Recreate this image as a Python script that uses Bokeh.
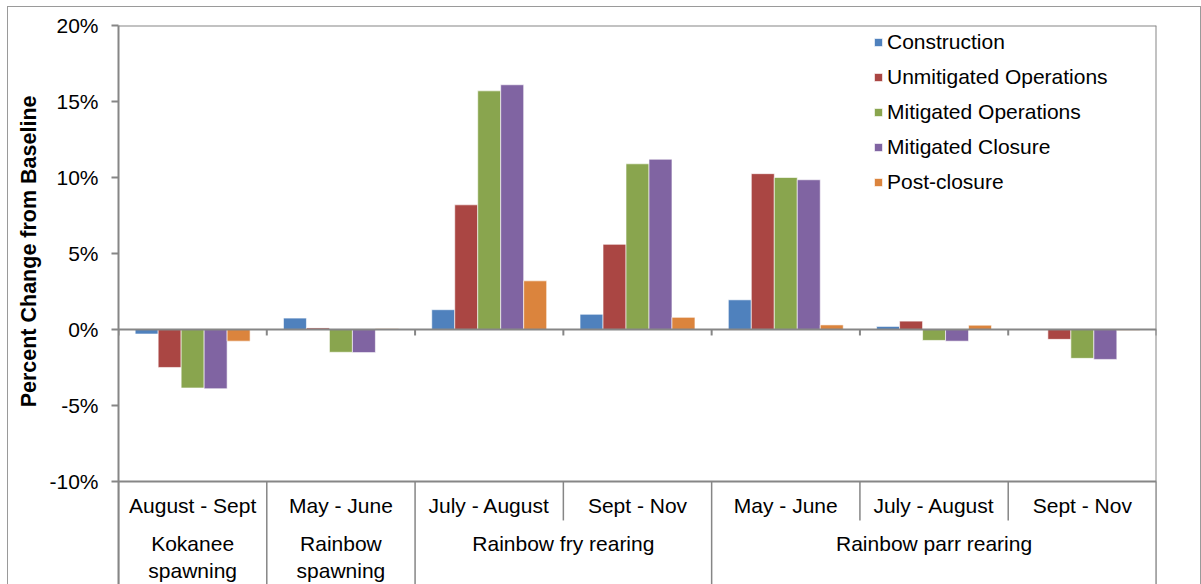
from bokeh.plotting import figure
from bokeh.models import (Range1d, FixedTicker, PrintfTickFormatter, Span, Legend,
                          LegendItem, ColumnDataSource, Title)
from bokeh.core.properties import value
from bokeh.embed import file_html
from bokeh.resources import INLINE

# ---------------- data ----------------
months = ["August - Sept", "May - June", "July - August", "Sept - Nov",
          "May - June", "July - August", "Sept - Nov"]
groups = ["Kokanee\nspawning", "Rainbow\nspawning", "Rainbow fry rearing", "Rainbow parr rearing"]
group_sizes = [1, 1, 2, 3]

series_names = ["Construction", "Unmitigated Operations", "Mitigated Operations",
                "Mitigated Closure", "Post-closure"]
construction = [-0.3, 0.75, 1.3, 1.0, 1.95, 0.2, 0.0]
unmitigated_ops = [-2.5, 0.1, 8.2, 5.6, 10.25, 0.55, -0.65]
mitigated_ops = [-3.85, -1.5, 15.7, 10.9, 10.0, -0.72, -1.9]
mitigated_closure = [-3.9, -1.52, 16.1, 11.2, 9.85, -0.77, -1.97]
post_closure = [-0.77, 0.05, 3.2, 0.8, 0.3, 0.28, -0.05]
series_values = [construction, unmitigated_ops, mitigated_ops, mitigated_closure, post_closure]
colors = ["#4F81BD", "#AA4643", "#89A54E", "#8064A2", "#DB843D"]

y_ticks = [-10, -5, 0, 5, 10, 15, 20]
y_title = "Percent Change from Baseline"

# ---------------- style ----------------
FONT = "Liberation Sans"
AXIS_GRAY = "#868686"
FS = "21px"
PX_PER_UNIT = 15.2

n = len(months)
p = figure(width=1192, height=577, output_backend="svg", toolbar_location=None,
           x_range=Range1d(0, n), y_range=Range1d(-16.78, 20),
           x_axis_location=None, min_border_left=109, min_border_right=44,
           min_border_top=18, min_border_bottom=0)
p.styles = {"position": "relative", "left": "8px", "top": "7px",
            "outline": "1px solid #9a9a9a"}
p.grid.visible = False
p.outline_line_color = None

ax = p.yaxis[0]
ax.ticker = FixedTicker(ticks=y_ticks)
ax.formatter = PrintfTickFormatter(format="%d%%")
ax.minor_tick_line_color = None
ax.major_tick_in = 0
ax.major_tick_out = 7
ax.major_tick_line_color = AXIS_GRAY
ax.major_tick_line_width = 2
ax.axis_line_color = AXIS_GRAY
ax.axis_line_width = 2
ax.major_label_text_font = FONT
ax.major_label_text_font_size = FS
ax.major_label_text_color = "black"
ax.major_label_standoff = 13

# vertical axis title, placed along the value range (top part of the frame)
p.add_layout(Title(text=y_title, align="right", offset=70, standoff=12,
                   text_font=FONT, text_font_size="21.5px", text_font_style="bold",
                   text_color="black"), "left")

# plot-area border (top and right)
p.add_layout(Span(location=y_ticks[-1], dimension="width", line_color=AXIS_GRAY, line_width=2))
p.add_layout(Span(location=n, dimension="height", line_color=AXIS_GRAY, line_width=2))

# ---------------- bars ----------------
bar_w = 0.155
renderers = []
for j, (name, vals, col) in enumerate(zip(series_names, series_values, colors)):
    xs = [i + 0.5 + (j - 2) * bar_w for i in range(n)]
    src = ColumnDataSource(dict(x=xs, top=vals))
    r = p.vbar(x="x", top="top", bottom=0, width=bar_w, source=src,
               fill_color=col, line_color="white", line_alpha=0.6, line_width=1)
    renderers.append(r)

# zero line and ticks at category boundaries
p.add_layout(Span(location=0, dimension="width", line_color=AXIS_GRAY, line_width=2))
bounds = list(range(n + 1))
tick_len = 6 / PX_PER_UNIT
p.segment(x0=bounds, x1=bounds, y0=[0] * len(bounds), y1=[-tick_len] * len(bounds),
          line_color=AXIS_GRAY, line_width=2)

# label table below the plot
y_low = y_ticks[0]
p.add_layout(Span(location=y_low, dimension="width", line_color=AXIS_GRAY, line_width=2))
group_edges = [0]
for s in group_sizes:
    group_edges.append(group_edges[-1] + s)
month_only = [b for b in bounds if b not in group_edges]
p.segment(x0=group_edges, x1=group_edges, y0=[y_low] * len(group_edges),
          y1=[p.y_range.start] * len(group_edges), line_color=AXIS_GRAY, line_width=1.5)
month_div_end = y_low - 39 / PX_PER_UNIT
p.segment(x0=month_only, x1=month_only, y0=[y_low] * len(month_only),
          y1=[month_div_end] * len(month_only), line_color=AXIS_GRAY, line_width=1.5)

month_row = y_low - 24 / PX_PER_UNIT
p.text(x=[i + 0.5 for i in range(n)], y=[month_row] * n, text=months,
       text_font=value(FONT), text_font_size=FS, text_align="center",
       text_baseline="middle", text_color="black")

group_row_top = y_low - 51 / PX_PER_UNIT
gx = [(group_edges[k] + group_edges[k + 1]) / 2 for k in range(len(groups))]
p.text(x=gx, y=[group_row_top] * len(groups), text=groups,
       text_font=value(FONT), text_font_size=FS, text_align="center",
       text_baseline="top", text_color="black", text_line_height=1.15)

# ---------------- legend ----------------
legend = Legend(items=[LegendItem(label=nm, renderers=[r]) for nm, r in zip(series_names, renderers)],
                location=(755, 390), padding=0, margin=0, spacing=10,
                glyph_width=10, glyph_height=10, label_height=25, label_standoff=4,
                label_text_font=FONT, label_text_font_size=FS, label_text_color="black",
                border_line_color=None, background_fill_alpha=0)
p.add_layout(legend)

open("out.html", "w").write(file_html(p, INLINE))
